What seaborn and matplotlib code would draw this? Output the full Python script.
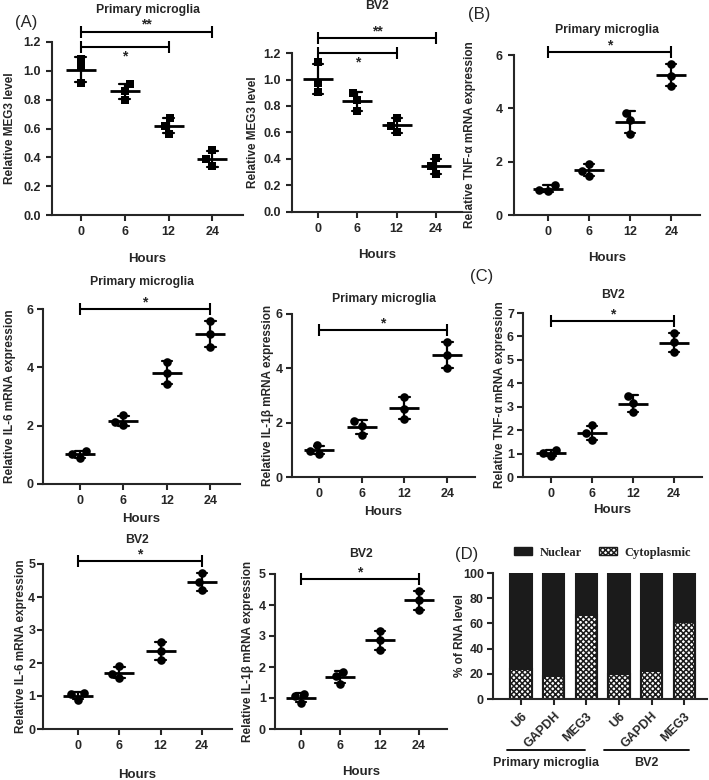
import numpy as np
import pandas as pd
import seaborn as sns
import matplotlib.pyplot as plt
import matplotlib.transforms as mtransforms
from matplotlib.patches import Patch

# time points (h) and three replicates per time point
hours = ["0", "6", "12", "24"]
meg3_pm = [[1.085, 1.025, 0.915], [0.91, 0.86, 0.80], [0.67, 0.62, 0.565], [0.45, 0.385, 0.34]]
meg3_bv2 = [[1.13, 0.975, 0.905], [0.90, 0.845, 0.76], [0.707, 0.652, 0.60], [0.404, 0.346, 0.29]]
tnf_pm = [[1.125, 0.90, 0.94], [1.91, 1.46, 1.66], [3.84, 3.56, 3.03], [5.66, 5.21, 4.84]]
il6_pm = [[1.12, 0.89, 1.03], [2.35, 2.01, 2.14], [4.20, 3.82, 3.43], [5.59, 5.14, 4.69]]
il1b_pm = [[1.17, 0.86, 0.96], [1.88, 1.56, 2.07], [2.95, 2.52, 2.13], [4.98, 4.49, 4.00]]
tnf_bv2 = [[1.17, 0.88, 1.02], [2.20, 1.59, 1.88], [3.47, 3.16, 2.77], [6.14, 5.75, 5.32]]
il6_bv2 = [[1.09, 0.89, 1.06], [1.90, 1.55, 1.68], [2.64, 2.37, 2.08], [4.73, 4.45, 4.20]]
il1b_bv2 = [[1.14, 0.84, 1.05], [1.85, 1.46, 1.70], [3.17, 2.86, 2.56], [4.46, 4.15, 3.85]]

# significance brackets: (from, to, height, label, star above?)
sig_meg3_pm = [(0, 2, 1.165, "*", False), (0, 3, 1.27, "**", True)]
sig_meg3_bv2 = [(0, 2, 1.20, "*", False), (0, 3, 1.31, "**", True)]
sig_tnf_pm = [(0, 3, 6.1, "*", True)]
sig_il6_pm = [(0, 3, 6.0, "*", True)]
sig_il1b_pm = [(0, 3, 5.41, "*", True)]
sig_tnf_bv2 = [(0, 3, 6.66, "*", True)]
sig_il6_bv2 = [(0, 3, 5.09, "*", True)]
sig_il1b_bv2 = [(0, 3, 4.84, "*", True)]

# nuclear / cytoplasmic fractionation (%)
rna_genes = ["U6", "GAPDH", "MEG3", "U6", "GAPDH", "MEG3"]
rna_groups = ["Primary microglia"] * 3 + ["BV2"] * 3
cytoplasmic = [24, 18, 67, 20, 22, 61]
nuclear = [76, 82, 33, 80, 78, 39]

sns.set_style("ticks")
plt.rcParams.update({
    "font.family": ["Liberation Sans", "DejaVu Sans"],
    "font.weight": "bold",
    "axes.labelweight": "bold",
    "axes.titleweight": "bold",
    "axes.linewidth": 1.5,
    "xtick.major.width": 1.5,
    "ytick.major.width": 1.5,
    "xtick.major.size": 4.5,
    "ytick.major.size": 4.5,
    "xtick.labelsize": 9,
    "ytick.labelsize": 9,
    "hatch.linewidth": 1.1,
})

W, H = 709, 780
fig = plt.figure(figsize=(W / 100, H / 100), dpi=100)


def box(x0, y0, x1, y1):
    return [x0 / W, 1 - y1 / H, (x1 - x0) / W, (y1 - y0) / H]


def bold_ticks(ax):
    for lab in ax.get_xticklabels() + ax.get_yticklabels():
        lab.set_fontweight("bold")


def dot_panel(rect, values, title, ylabel, ymax, ystep, sigs, xlim,
              marker="o", tpad=10, xpad=8, ylab_x=-0.15, fmt=None, ypad=3.5):
    ax = fig.add_axes(box(*rect))
    df = pd.DataFrame({"Hours": np.repeat(hours, 3), "value": np.ravel(values)})
    sns.swarmplot(data=df, x="Hours", y="value", order=hours, color="black",
                  size=6.2, marker=marker, ax=ax, zorder=3)
    sns.pointplot(data=df, x="Hours", y="value", order=hours, errorbar="sd",
                  capsize=0.25, color="black", linestyle="none", marker="_",
                  markersize=21, markeredgewidth=2, err_kws={"linewidth": 1.6}, ax=ax)
    ax.set_xlim(*xlim)
    ax.set_ylim(0, ymax)
    ax.set_yticks(np.arange(0, ymax + ystep / 2, ystep))
    if fmt:
        ax.set_yticklabels([fmt % t for t in ax.get_yticks()])
    ax.tick_params(axis="y", pad=ypad)
    bold_ticks(ax)
    sns.despine(ax=ax)
    ax.set_title(title, fontsize=8.8, pad=tpad)
    ax.set_xlabel("Hours", fontsize=9.5, labelpad=xpad)
    ax.set_ylabel(ylabel, fontsize=8.5)
    ax.yaxis.set_label_coords(ylab_x, 0.5)
    for x0, x1, y, txt, above in sigs:
        ax.plot([x0, x1], [y, y], color="black", lw=1.5, marker="|",
                markersize=8, mew=1.5, clip_on=False)
        ax.annotate(txt, ((x0 + x1) / 2, y), xytext=(0, 5 if above else -7),
                    textcoords="offset points", ha="center", va="center",
                    fontsize=10, annotation_clip=False)
    return ax


dot_panel((52, 42, 243, 215), meg3_pm, "Primary microglia", "Relative MEG3 level",
          1.2, 0.2, sig_meg3_pm, (-0.66, 3.7), marker="s", tpad=21, xpad=11,
          ylab_x=-0.19, fmt="%.1f")
dot_panel((292, 53, 462, 212), meg3_bv2, "BV2", "Relative MEG3 level",
          1.2, 0.2, sig_meg3_bv2, (-0.66, 3.66), marker="s", tpad=32, xpad=10,
          ylab_x=-0.194, fmt="%.1f")
dot_panel((514, 55, 700, 215), tnf_pm, "Primary microglia", "Relative TNF-α mRNA expression",
          6, 2, sig_tnf_pm, (-0.83, 3.7), tpad=16, xpad=10, ylab_x=-0.204)
dot_panel((43, 309, 240, 484), il6_pm, "Primary microglia", "Relative IL-6 mRNA expression",
          6, 2, sig_il6_pm, (-0.85, 3.68), tpad=17, xpad=4, ylab_x=-0.137, ypad=2)
dot_panel((292, 314, 475, 477), il1b_pm, "Primary microglia", "Relative IL-1β mRNA expression",
          6, 2, sig_il1b_pm, (-0.63, 3.65), tpad=8.5, xpad=4, ylab_x=-0.098, ypad=2)
dot_panel((523, 313, 702, 477), tnf_bv2, "BV2", "Relative TNF-α mRNA expression",
          7, 1, sig_tnf_bv2, (-0.68, 3.68), tpad=11, xpad=3, ylab_x=-0.095, ypad=2)
dot_panel((43, 564, 232, 729), il6_bv2, "BV2", "Relative IL-6 mRNA expression",
          5, 1, sig_il6_bv2, (-0.85, 3.73), tpad=15, xpad=12, ylab_x=-0.085, ypad=1)
dot_panel((275, 574, 447, 729), il1b_bv2, "BV2", "Relative IL-1β mRNA expression",
          5, 1, sig_il1b_bv2, (-0.66, 3.71), tpad=12, xpad=10, ylab_x=-0.122, ypad=2)

# (D) stacked bars: nuclear on top of cytoplasmic
ax = fig.add_axes(box(493, 573, 707, 699))
samples = [f"{g}_{k}" for g, k in zip(rna_groups, rna_genes)]
df_rna = pd.DataFrame({"sample": samples, "Nuclear": nuclear, "Cytoplasmic": cytoplasmic})
df_rna["total"] = df_rna["Nuclear"] + df_rna["Cytoplasmic"]
dark = "#1b1b1b"
sns.barplot(data=df_rna, x="sample", y="total", color=dark, saturation=1,
            width=0.65, edgecolor=dark, linewidth=1.5, ax=ax)
sns.barplot(data=df_rna, x="sample", y="Cytoplasmic", color="white", saturation=1,
            width=0.65, edgecolor=dark, linewidth=1.5, hatch="xxxxxx", ax=ax)
ax.set_xlim(-0.86, 5.7)
ax.set_ylim(0, 100)
ax.set_yticks(range(0, 101, 20))
ax.set_xticks(range(len(rna_genes)))
ax.set_xticklabels(rna_genes, rotation=45, ha="right", rotation_mode="anchor")
ax.tick_params(axis="y", pad=2)
bold_ticks(ax)
ax.set_xlabel("")
ax.set_ylabel("% of RNA level", fontsize=8.5)
ax.yaxis.set_label_coords(-0.126, 0.5)
sns.despine(ax=ax)

trans = mtransforms.blended_transform_factory(ax.transData, ax.transAxes)
for lo, hi, name in [(-0.43, 1.96, "Primary microglia"), (2.55, 5.15, "BV2")]:
    ax.plot([lo, hi], [-0.405, -0.405], transform=trans, color="black", lw=1.3, clip_on=False)
    ax.text((lo + hi) / 2, -0.51, name, transform=trans, ha="center", va="center", fontsize=9)

handles = [Patch(facecolor=dark, edgecolor=dark),
           Patch(facecolor="white", edgecolor=dark, hatch="xxxxxx")]
ax.legend(handles, ["Nuclear", "Cytoplasmic"], ncol=2, loc="center",
          bbox_to_anchor=(0.512, 1.16), frameon=False, handlelength=1.4,
          handleheight=0.6, columnspacing=1.4, handletextpad=0.6,
          prop={"family": "Liberation Serif", "weight": "bold", "size": 9})

# panel letters
for txt, x, y in [("(A)", 15, 22), ("(B)", 468, 15), ("(C)", 470, 276), ("(D)", 455, 554)]:
    fig.text(x / W, 1 - y / H, txt, fontsize=12, fontweight="normal", va="center")

fig.savefig("out.png", dpi=100)
